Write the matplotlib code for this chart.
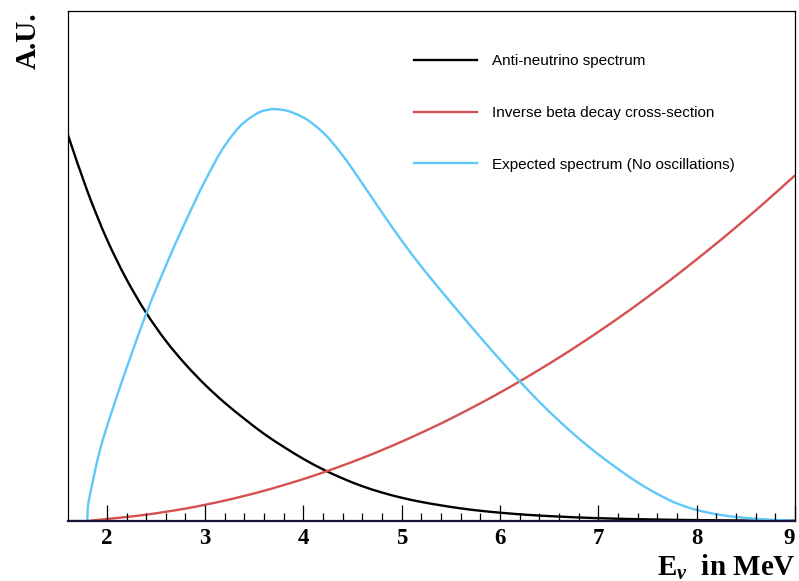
import matplotlib
matplotlib.use("Agg")
import matplotlib.pyplot as plt
from matplotlib.path import Path
from matplotlib.patches import PathPatch
from matplotlib.lines import Line2D
from matplotlib.ticker import FixedLocator, NullLocator

plt.rcParams['mathtext.fontset'] = 'custom'
plt.rcParams['mathtext.rm'] = 'Liberation Serif:bold'
plt.rcParams['mathtext.it'] = 'Liberation Serif:italic:bold'

# anti-neutrino spectrum (A.U.)
x_flux = [1.6, 1.8, 2.0, 2.2, 2.4, 2.6, 2.8, 3.0, 3.2, 3.4, 3.6, 3.8, 4.0, 4.2,
          4.4, 4.6, 4.8, 5.0, 5.2, 5.4, 5.6, 5.8, 6.0, 6.3, 6.6, 7.0, 7.4, 7.8,
          8.2, 8.6, 9.0]
y_flux = [387, 330, 281.5, 241.5, 208, 180, 156.5, 136, 118, 102, 87, 74, 62, 51.5,
          42.5, 34.7, 28.4, 23.2, 19, 15.6, 12.6, 10.2, 8.3, 6, 4.4, 2.8, 1.8, 1.1,
          0.7, 0.4, 0.25]

# inverse beta decay cross-section (A.U.)
x_xsec = [1.8, 2.0, 2.2, 2.4, 2.6, 2.8, 3.0, 3.2, 3.4, 3.6, 3.8, 4.0, 4.2, 4.4,
          4.6, 4.8, 5.0, 5.2, 5.4, 5.6, 5.8, 6.0, 6.2, 6.4, 6.6, 6.8, 7.0, 7.2,
          7.4, 7.6, 7.8, 8.0, 8.2, 8.4, 8.6, 8.8, 9.0]
y_xsec = [0, 2, 4, 6.3, 9.2, 12.4, 16.2, 20.4, 25.1, 30.2, 35.9, 41.9, 48.5, 55.5,
          62.9, 70.9, 79.3, 88.2, 97.5, 107.3, 117.6, 128.3, 139.5, 151.2, 163.3,
          175.9, 189, 202.5, 216.5, 231, 245.9, 261.4, 277.2, 293.5, 310.3, 327.6,
          345.3]

# expected spectrum, no oscillations (A.U.)
x_exp = [1.6, 1.8, 1.805, 1.82, 1.85, 1.9, 1.95, 2.0, 2.1, 2.2, 2.4, 2.6, 2.8,
         3.0, 3.2, 3.4, 3.6, 3.7, 3.8, 4.0, 4.2, 4.4, 4.6, 4.8, 5.0, 5.2, 5.4,
         5.6, 5.8, 6.0, 6.2, 6.4, 6.6, 6.8, 7.0, 7.2, 7.4, 7.6, 7.8, 8.0, 8.2,
         8.4, 8.6, 8.8, 9.0]
y_exp = [0, 0, 12, 22, 36, 59, 78, 94, 124, 152.5, 207, 255, 299,
         340, 375, 398.5, 410, 411.5, 410.5, 403, 388, 365, 337, 308, 280, 254, 230,
         206.5, 183.5, 161, 139.5, 119, 100, 82.5, 66.5, 52, 38.5, 27, 17.5, 11, 6.8,
         4, 2.2, 1, 0.3]

labels = ["Anti-neutrino spectrum", "Inverse beta decay cross-section",
          "Expected spectrum (No oscillations)"]
colors = ['black', '#d5504e', '#5ec8f8']
major_ticks = [2, 3, 4, 5, 6, 7, 8, 9]
minor_ticks = [2 + 0.2 * i for i in range(36)]


def smooth_path(xs, ys):
    # cubic bezier through the read points, monotone tangents (no overshoot)
    n = len(xs)
    d = [(ys[i + 1] - ys[i]) / (xs[i + 1] - xs[i]) for i in range(n - 1)]
    m = [d[0]] + [0.0] * (n - 2) + [d[-1]]
    for i in range(1, n - 1):
        if d[i - 1] * d[i] > 0:
            h0 = xs[i] - xs[i - 1]
            h1 = xs[i + 1] - xs[i]
            m[i] = 3 * (h0 + h1) / ((2 * h1 + h0) / d[i - 1] + (h1 + 2 * h0) / d[i])
    verts = [(xs[0], ys[0])]
    codes = [Path.MOVETO]
    for i in range(n - 1):
        h = xs[i + 1] - xs[i]
        verts += [(xs[i] + h / 3, ys[i] + m[i] * h / 3),
                  (xs[i + 1] - h / 3, ys[i + 1] - m[i + 1] * h / 3),
                  (xs[i + 1], ys[i + 1])]
        codes += [Path.CURVE4] * 3
    return Path(verts, codes)


fig = plt.figure(figsize=(7.99, 5.81), dpi=100)
ax = fig.add_axes([0.0845, 0.1033, 0.9105, 0.8778])

for xs, ys, c in [(x_flux, y_flux, colors[0]), (x_xsec, y_xsec, colors[1]),
                  (x_exp, y_exp, colors[2])]:
    ax.add_patch(PathPatch(smooth_path(xs, ys), fill=False, edgecolor=c,
                           lw=1.7, capstyle='butt', joinstyle='round'))

ax.set_xlim(1.6, 9)
ax.set_ylim(0, 509.5)
ax.yaxis.set_major_locator(NullLocator())
ax.xaxis.set_major_locator(FixedLocator(major_ticks))
ax.xaxis.set_minor_locator(FixedLocator(minor_ticks))
ax.tick_params(axis='x', which='major', direction='in', length=11.5, width=0.9, pad=5)
ax.tick_params(axis='x', which='minor', direction='in', length=6, width=0.9)
tls = ax.get_xticklabels()
for t in tls:
    t.set_fontfamily('Liberation Serif')
    t.set_fontweight('bold')
    t.set_fontsize(16.5)
tls[-1].set_horizontalalignment('right')

ax.spines['bottom'].set_color('#15153a')
ax.spines['bottom'].set_linewidth(1.6)
for s in ['left', 'top', 'right']:
    ax.spines[s].set_linewidth(0.9)

fig.text(0.996, 0.009, r'$\mathrm{E}_{\nu}$  in MeV', ha='right', va='baseline',
         fontsize=21, fontfamily='Liberation Serif', fontweight='bold')
fig.text(0.035, 0.979, 'A.U.', rotation=90, ha='center', va='top',
         fontsize=21, fontfamily='Liberation Serif', fontweight='bold')

handles = [Line2D([], [], color=c, lw=1.7) for c in colors]
ax.legend(handles, labels, loc='upper left', bbox_to_anchor=(0.476, 0.915),
          frameon=False, prop={'family': 'Liberation Sans', 'size': 11},
          handlelength=4.12, handletextpad=0.98, labelspacing=2.47,
          borderpad=0, borderaxespad=0)

fig.savefig('out.png', dpi=100)
